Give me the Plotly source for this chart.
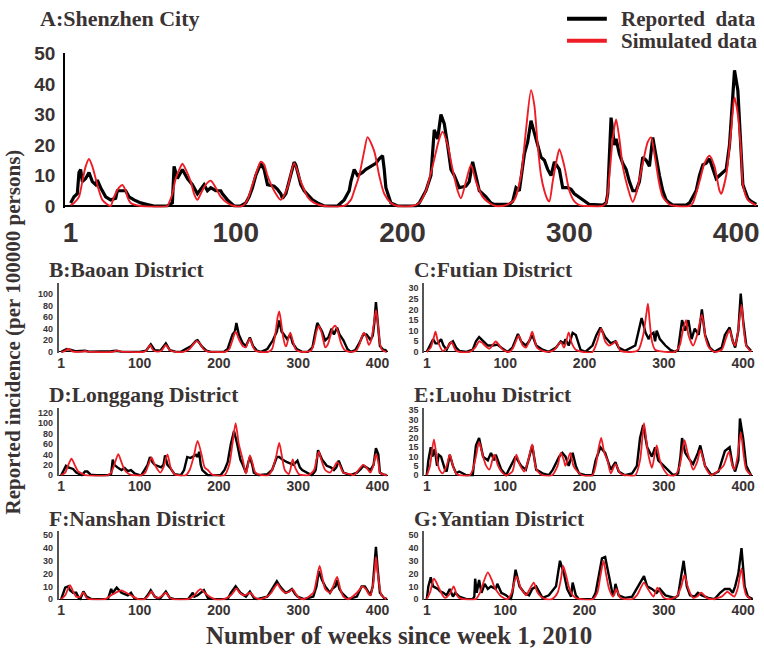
import plotly.graph_objects as go

W, H = 764, 660

# ---------------- data: (week, incidence per 100000) ----------------
week_ticks = [1, 100, 200, 300, 400]

A_reported = [(1,1),(3,3),(5,4),(6,11),(7,12),(8,8),(10,9),(12,11),(14,8),(16,7),(17,8.5),(19,6),(22,3),(25,2),(28,2.5),(29,5),(34,5),(36,3),(39,2),(43,1),(47,0.5),(51,0),(59,0),(62,1),(63,13),(65,9),(68,12),(71,9),(74,7),(76,5),(77,4),(81,7),(83,5),(85,6),(88,5),(91,5),(92,4),(95,2),(97,1),(99,0),(103,0),(106,1),(108,3),(110,6),(112,10),(115,14),(117,12),(119,7),(123,6.5),(125,5.5),(127,4),(128,2.5),(130,4),(132,8),(135,14.4),(136,13.5),(139,7),(141,5),(144,3),(146,2),(149,1),(153,0),(161,0),(163,1),(165,2),(167,4),(168,5),(169,8),(171,12),(173,10),(176,11),(178,12),(181,13),(184,14),(186,15.5),(188,16.5),(189,12),(190,6),(193,1),(197,0),(208,0),(210,1),(214,5),(217,10),(219,25),(221,22),(223,30),(225,27),(227,20),(229,12),(231,10),(234,6),(238,6.5),(240,8),(242,14.5),(243,12),(246,5),(248,4),(250,3),(253,1),(255,0.5),(264,0.5),(266,1.5),(268,6),(270,5),(273,17),(275,21),(277,28),(279,24),(281,20),(283,16),(285,15),(287,12),(289,10),(291,14.5),(294,12),(296,6),(299,6),(301,5.5),(303,4),(307,2.5),(310,1.5),(312,0.5),(320,0.3),(322,1),(323,4),(325,29),(327,20),(328,22),(330,17),(332,14),(334,12),(336,8),(338,5),(340,5),(342,8),(344,16),(346,15),(348,13),(350,22.5),(352,16),(354,10),(356,5),(358,2),(360,1),(362,0.3),(370,0.3),(372,1),(376,5),(378,10),(380,13.5),(382,14),(384,15.5),(386,12),(388,9),(390,10),(392,11),(394,12),(396,20),(398,38),(399,44.5),(401,38),(402,28),(403,20),(404,7),(406,4),(407,2.5),(409,1.5),(412,0.5)]
A_simulated = [(1,0.3),(3,1),(6,3),(8,8),(10,13),(12,15.4),(14,13),(16,9),(18,5),(20,2),(23,0.5),(25,0),(27,3),(30,6),(32,6.9),(34,5),(35,3),(37,1),(43,0),(59,0),(60,1),(62,4),(64,9),(67,13),(68,13.9),(70,12),(73,8),(75,4),(77,2),(79,4),(82,7),(85,8.3),(88,6),(91,3),(95,1),(99,0),(104,0),(107,2),(110,7),(113,12),(115,14.5),(117,13.6),(119,10),(123,5),(127,2),(131,6),(135,14),(139,8),(143,3),(147,1),(153,0),(165,0),(169,2),(171,5),(174,10),(177,18),(179,22.6),(183,18),(186,10),(189,4),(193,1),(197,0),(206,0),(210,1),(214,5),(218,13),(222,22),(224,24.4),(227,20),(230,12),(233,5),(235,2.5),(238,8),(241,13.5),(244,8),(248,3),(252,1),(256,0),(262,0.3),(267,2),(271,10),(274,25),(277,38),(279,33),(281,20),(283,10),(285,5),(287,2),(288,1.5),(290,8),(292,14),(294,18.6),(297,13),(300,5),(303,1.5),(306,0.3),(310,0),(320,0),(322,1),(324,10),(326,22),(328,28.4),(330,22),(332,13),(335,6),(338,1.3),(340,4),(344,14),(347,21),(349,22.5),(351,17),(354,7),(356,3),(360,0.5),(364,0),(372,0),(374,1),(378,8),(381,14),(384,16.5),(387,13),(390,5),(391,4),(394,10),(397,25),(399,35.6),(401,30),(403,17),(404,7),(407,2),(412,0.2)]

B_reported = [(1,0),(6,3),(8,5),(12,4),(16,3),(20,1),(31,2),(36,0.5),(64,1),(71,2),(76,0.5),(100,0),(108,2),(114,13),(119,3),(126,2),(133,14.5),(138,3),(145,0.5),(152,0),(158,5),(165,10),(171,19),(173,20),(178,10),(184,2),(190,0),(206,0),(211,5),(215,20),(217,30),(220,35),(222,50),(225,30),(230,15),(234,10),(239,25),(243,10),(248,2),(253,0),(261,5),(268,20),(273,35),(276,54),(279,35),(282,30),(286,22),(290,30),(293,15),(298,5),(305,0),(312,0),(318,8),(321,30),(324,50),(330,35),(334,20),(338,25),(342,40),(345,30),(349,42),(352,30),(357,20),(362,5),(366,0),(372,3),(377,15),(382,30),(386,30),(389,25),(391,20),(394,28),(396,50),(398,86),(400,60),(403,10),(407,4),(410,3),(412,0)]
B_simulated = [(1,0),(5,1),(10,5),(15,1),(20,0),(28,0.5),(31,1.5),(34,0.5),(40,0),(65,0),(71,2),(77,0.5),(85,0),(105,0),(109,3),(113,12),(117,3),(122,0.5),(128,3),(133,12),(138,3),(145,0),(155,0),(163,5),(168,14),(172,19),(176,14),(181,4),(186,0.5),(195,0),(208,0),(213,5),(217,20),(221,35),(225,22),(230,10),(234,8),(236,15),(239,23),(242,12),(246,2),(252,0),(262,0),(267,5),(271,30),(274,60),(276,70),(278,55),(281,25),(284,10),(285,10),(287,20),(290,33),(293,20),(297,4),(302,0.5),(310,0),(316,2),(320,15),(323,35),(326,45),(329,35),(332,18),(334,8),(337,12),(341,30),(344,42),(347,45),(350,35),(354,15),(358,4),(363,0.5),(368,0),(373,2),(377,12),(380,25),(383,33),(386,25),(389,12),(392,20),(395,45),(398,72),(400,55),(403,15),(406,3),(411,0)]

C_reported = [(1,0),(5,3),(9,6),(12,4),(15,4),(19,6),(22,3),(26,1),(30,4),(34,5),(38,2),(42,0.5),(51,0),(59,1),(63,5),(67,7),(72,5),(78,3),(84,3),(90,3.5),(95,2),(103,0),(109,2),(116,8.5),(120,5),(126,3),(130,5),(134,8),(139,3),(147,1),(155,0),(164,2),(170,5),(174,4),(176,6),(180,3),(185,9),(189,8),(195,1),(201,0),(210,3),(215,8),(220,11.5),(226,7),(233,4),(239,5),(243,2),(251,0.5),(264,3),(268,10),(272,16),(277,9),(281,6),(283,8),(287,9),(289,5),(291,10),(295,6),(302,3),(308,1),(314,0),(318,1),(323,15),(327,10),(331,15),(335,6),(339,11),(344,8),(348,20),(352,8),(358,2),(364,0),(373,2),(377,8),(383,11.5),(387,5),(390,2),(394,10),(397,27.5),(400,15),(404,3),(410,0.5)]
C_simulated = [(1,0),(6,2),(10,7),(12,9.5),(15,5),(21,0.5),(27,2),(32,4.7),(37,1),(42,0),(55,0),(62,2),(67,5),(70,4.5),(80,1.5),(88,4.9),(97,1),(105,0),(110,2),(117,7.7),(122,3),(126,2),(130,5),(134,9.5),(140,2),(147,0.5),(155,0),(162,1),(170,4.6),(174,2),(177,5),(180,9.2),(184,4),(189,1),(197,0),(210,0),(216,5),(221,11),(226,5),(231,3),(236,4),(240,5),(245,0.5),(260,0),(268,1),(274,8),(278,18),(280,22.7),(282,15),(285,5),(289,1),(302,0),(314,0),(320,3),(324,10),(328,15),(331,8),(337,3),(342,8),(348,17.6),(353,6),(357,2),(364,0),(373,1),(378,6),(383,10.4),(387,5),(390,3),(393,8),(398,22.2),(401,10),(404,3),(410,0)]

D_reported = [(1,0),(4,8),(7,18),(10,15),(16,12),(20,5),(23,3),(27,0),(31,7),(34,7),(38,1),(45,0),(60,0),(64,3),(66,30),(68,20),(72,15),(77,10),(81,14),(85,8),(89,10),(94,3),(100,0),(102,0),(106,10),(110,20),(113,35),(116,25),(119,20),(127,15),(130,20),(132,38),(135,20),(138,15),(144,2),(152,0),(156,10),(160,35),(164,33),(167,35),(171,39),(173,35),(175,45),(177,20),(179,10),(186,0),(202,0),(207,10),(211,25),(215,60),(219,85),(223,60),(227,30),(230,20),(234,5),(237,25),(239,35),(242,20),(244,5),(250,0),(261,2),(267,10),(271,25),(273,35),(276,35),(280,30),(286,25),(290,22),(294,20),(299,28),(302,15),(305,10),(311,5),(317,0),(320,5),(322,10),(325,48),(328,35),(330,30),(336,18),(341,15),(345,10),(348,15),(351,28),(354,15),(357,5),(366,0),(374,5),(379,12),(382,18),(385,16),(391,10),(395,20),(398,52),(401,40),(403,5),(408,1),(412,0)]
D_simulated = [(1,0),(6,5),(10,20),(14,31.7),(18,20),(22,8),(25,5),(31,0),(60,0),(64,5),(68,20),(73,40.4),(77,25),(81,10),(87,2),(92,0),(102,0),(107,5),(111,20),(115,34),(119,20),(126,5),(130,15),(135,40),(139,15),(144,2),(148,0),(158,0),(163,10),(168,35),(173,66),(178,40),(182,15),(186,10),(190,3),(194,0),(207,0),(213,20),(217,60),(221,100),(225,60),(230,30),(234,3),(236,15),(239,38),(242,25),(246,5),(254,0),(262,0),(267,10),(272,35),(276,62),(279,40),(283,10),(288,2),(290,10),(293,30.5),(296,15),(301,2),(307,0),(313,0),(320,10),(323,30),(326,45),(329,30),(334,10),(340,5),(345,15),(349,25),(352,20),(357,5),(366,2),(370,0),(376,10),(382,20),(386,15),(391,5),(395,20),(398,40.4),(401,25),(403,5),(408,1),(412,0)]

E_reported = [(1,0),(3,8),(6,15),(8,10),(11,14),(14,5),(16,11),(19,10),(24,3),(26,2),(30,11),(34,5),(38,1),(42,2),(51,0),(59,0),(63,16),(67,20),(72,10),(78,8),(82,12),(86,8),(88,11),(95,3),(101,0),(107,5),(113,10),(120,5),(126,3),(134,16),(139,3),(147,1),(155,0),(160,3),(168,10),(172,12),(176,10),(180,5),(185,12),(189,5),(193,1),(201,0),(210,0),(214,8),(220,15),(226,12),(233,3),(239,7),(243,2),(251,0),(260,1),(266,5),(270,20),(274,27),(279,15),(285,10),(289,15),(293,8),(300,5),(306,2),(312,0),(318,1),(321,10),(323,20),(327,12),(333,8),(337,6),(343,12),(346,16),(352,5),(360,0),(369,2),(377,13),(383,15),(387,5),(390,2),(394,8),(396,30.5),(400,20),(404,5),(410,0)]
E_simulated = [(1,0),(5,5),(10,19.2),(14,8),(17,3),(21,1),(26,5),(30,11),(34,5),(38,1),(42,0),(55,0),(59,3),(63,10),(67,17.9),(72,10),(76,5),(80,3),(86,11),(91,5),(95,2),(101,0),(109,2),(114,11),(119,5),(124,2),(129,8),(134,16.5),(138,5),(141,2),(147,0),(159,0),(166,5),(170,12),(174,8),(176,5),(182,12),(186,5),(191,2),(197,0),(210,0),(214,5),(218,15),(221,20),(225,12),(229,8),(233,1),(239,6),(245,1),(251,0),(264,0),(270,8),(275,28),(279,15),(281,10),(285,4),(291,16),(295,8),(300,3),(306,0),(314,0),(320,5),(326,18.8),(330,12),(333,8),(337,3),(342,7),(346,13.6),(350,8),(354,3),(360,0),(375,5),(382,12.5),(386,6),(389,3),(393,10),(397,23),(401,10),(404,3),(410,0)]

F_reported = [(1,0),(3,4),(6,9),(10,10),(12,7),(16,5),(20,5),(23,1),(25,0),(29,6),(33,2),(39,0),(60,0),(64,8),(66,5),(71,9),(77,5),(85,3),(89,5),(94,0),(106,0),(110,3),(114,7),(119,2),(125,0),(133,6),(138,1),(144,0),(161,0),(167,5),(169,2),(173,3),(177,5),(181,7),(186,1),(194,0),(211,0),(215,5),(221,10),(227,5),(234,2),(239,6),(244,1),(248,0),(261,2),(267,8),(273,14),(277,10),(280,8),(284,5),(288,6),(292,8),(296,4),(299,2),(307,0),(319,2),(323,10),(326,22),(330,15),(334,10),(340,5),(343,8),(347,10),(349,15),(352,8),(355,5),(363,0),(374,2),(380,10),(384,10),(386,8),(391,3),(394,10),(396,25),(398,41),(400,25),(403,5),(408,1),(412,0)]
F_simulated = [(1,0),(6,3),(12,11),(16,6),(20,2),(25,2),(29,5.3),(33,1),(37,0),(56,0),(64,3),(71,5.5),(77,6.9),(83,5),(89,3),(98,0),(106,0),(110,2),(115,6),(119,2),(123,1),(129,3),(133,5),(138,1),(142,0),(161,0),(169,3),(173,6),(177,7.9),(182,5),(188,2),(194,0),(206,0),(215,3),(219,6),(222,8.5),(226,5),(232,3),(236,4),(240,5),(244,2),(250,0),(261,2),(266,5),(270,9),(274,12),(278,8),(284,5),(289,6),(293,7.9),(297,4),(301,1),(307,0),(319,5),(323,15),(327,26),(331,15),(334,8),(340,5),(344,10),(349,17.5),(353,8),(357,2),(363,0),(374,5),(378,8),(381,10),(385,8),(389,4),(391,3),(394,10),(396,20),(398,33),(400,22),(403,8),(405,3),(411,0)]

G_reported = [(1,0),(3,10),(6,17),(9,10),(12,9),(15,8),(18,6),(22,5),(26,3),(30,8),(34,2),(37,5),(42,2),(51,0),(59,0),(61,2),(62,16),(64,5),(67,15),(70,5),(74,12),(78,8),(82,10),(86,9),(88,8),(90,12),(95,5),(101,3),(107,0),(109,5),(113,23),(118,10),(124,5),(130,3),(134,8),(139,10),(143,5),(147,1),(155,3),(164,10),(169,30),(174,20),(178,8),(183,2),(185,13),(189,3),(193,0),(210,0),(214,5),(222,32),(226,33),(230,20),(235,5),(237,3),(239,12),(243,3),(251,1),(260,2),(266,8),(270,12),(275,18),(279,10),(285,8),(291,5),(295,8),(302,3),(308,2),(314,1),(318,3),(320,10),(325,30),(329,10),(333,3),(339,2),(343,5),(348,3),(356,1),(364,0),(371,5),(377,8),(383,8),(387,5),(390,10),(394,20),(398,40),(402,10),(406,2),(412,0)]
G_simulated = [(1,0),(5,5),(10,16),(14,12),(17,8),(21,3),(24,1),(30,4),(35,10),(39,3),(42,1),(47,0),(63,0),(68,5),(73,14),(78,21),(83,15),(86,10),(92,4),(95,2),(103,0),(108,5),(114,18),(120,8),(124,5),(126,3),(131,8),(136,13),(140,6),(145,2),(151,0),(159,0),(166,5),(170,15),(173,26),(177,18),(180,10),(185,3),(189,1),(195,0),(210,0),(216,5),(220,18),(224,30),(227,20),(231,8),(236,2),(240,8),(245,1),(251,0),(260,0),(266,3),(271,9),(275,13),(280,8),(283,5),(287,2),(292,9),(296,5),(300,1),(306,0),(316,2),(322,10),(326,19),(330,10),(333,5),(337,1),(342,2),(347,5),(351,3),(354,1),(360,0),(373,2),(380,5.8),(384,4),(389,2),(393,8),(398,24),(401,10),(404,3),(410,0)]

# ---------------- layout specs (pixel geometry) ----------------
TXT = '#3a3333'
SERIF = 'Liberation Serif, Times New Roman, serif'
SANS = 'Liberation Sans, Arial, sans-serif'

LEFT_X = (56.8, 387.7)
RIGHT_X = (424.3, 755.2)
panels = [
    dict(t='A:Shenzhen City', rep=A_reported, sim=A_simulated, xpix=(63.3, 759.5), p0=202.5, k=3.133,
         yr=(-0.5, 50.3), yt=[0, 10, 20, 30, 40, 50], big=True, tx=36, ty=10),
    dict(t='B:Baoan District', rep=B_reported, sim=B_simulated, xpix=LEFT_X, p0=352.5, k=0.596,
         yr=(-2.0, 118.3), yt=[0, 20, 40, 60, 80, 100], big=False, tx=45, ty=268.3),
    dict(t='C:Futian District', rep=C_reported, sim=C_simulated, xpix=RIGHT_X, p0=352.5, k=2.18,
         yr=(-0.55, 32.3), yt=[0, 5, 10, 15, 20, 25, 30], big=False, tx=412, ty=268.3),
    dict(t='D:Longgang District', rep=D_reported, sim=D_simulated, xpix=LEFT_X, p0=479.3, k=0.536,
         yr=(-2.2, 129.3), yt=[0, 20, 40, 60, 80, 100, 120], big=False, tx=45, ty=396.5),
    dict(t='E:Luohu District', rep=E_reported, sim=E_simulated, xpix=RIGHT_X, p0=479.3, k=1.914,
         yr=(-0.63, 36.2), yt=[0, 5, 10, 15, 20, 25, 30, 35], big=False, tx=412, ty=396.5),
    dict(t='F:Nanshan District', rep=F_reported, sim=F_simulated, xpix=LEFT_X, p0=606.7, k=1.314,
         yr=(-0.9, 53.3), yt=[0, 10, 20, 30, 40, 50], big=False, tx=45, ty=524),
    dict(t='G:Yantian District', rep=G_reported, sim=G_simulated, xpix=RIGHT_X, p0=606.7, k=1.314,
         yr=(-0.9, 53.3), yt=[0, 10, 20, 30, 40, 50], big=False, tx=412, ty=524),
]

fig = go.Figure()
layout = dict(width=W, height=H, margin=dict(l=0, r=0, t=0, b=0),
              paper_bgcolor='white', plot_bgcolor='white', showlegend=False)
annotations = []
shapes = []

for i, p in enumerate(panels, start=1):
    xa = 'x' if i == 1 else f'x{i}'
    ya = 'y' if i == 1 else f'y{i}'
    big = p['big']
    xw, xv = zip(*p['rep'])
    sw, sv = zip(*p['sim'])
    fig.add_trace(go.Scatter(x=xw, y=xv, xaxis=xa, yaxis=ya, mode='lines', name='Reported data',
                             line=dict(color='#000000', width=3.2 if big else 2.4)))
    fig.add_trace(go.Scatter(x=sw, y=sv, xaxis=xa, yaxis=ya, mode='lines', name='Simulated data',
                             line=dict(color='#ee1c24', width=1.9 if big else 1.8, shape='spline', smoothing=0.7)))
    p0, k = p['p0'], p['k']
    ylo, yhi = p['yr']
    pb = p0 - ylo * k
    pt = p0 - yhi * k
    xd = [p['xpix'][0] / W, p['xpix'][1] / W]
    yd = [(H - pb) / H, (H - pt) / H]
    xkey = 'xaxis' if i == 1 else f'xaxis{i}'
    ykey = 'yaxis' if i == 1 else f'yaxis{i}'
    layout[xkey] = dict(domain=xd, range=[-2.4, 412.8], anchor=ya, tickvals=week_ticks,
                        showgrid=False, zeroline=False, showline=False, ticks='',
                        ticklabelstandoff=5 if big else 0,
                        tickfont=dict(family=SANS, size=28 if big else 14, color=TXT, weight='bold'))
    layout[ykey] = dict(domain=yd, range=[ylo, yhi], anchor=xa, tickvals=p['yt'],
                        showgrid=False, zeroline=True, zerolinecolor='#000000',
                        zerolinewidth=1.5 if big else 1,
                        showline=True, linecolor='#000000' if big else '#555555', linewidth=1.5,
                        ticks='', ticklabelstandoff=4 if big else 2,
                        tickfont=dict(family=SANS, size=19 if big else 9, color=TXT, weight='bold'))
    annotations.append(dict(text=p['t'], xref='paper', yref='paper', x=p['tx'] / W, y=(H - p['ty']) / H,
                            xanchor='left', yanchor='middle', showarrow=False,
                            font=dict(family=SERIF, size=22 if big else 21.5, color=TXT, weight='bold')))

# axis titles
annotations.append(dict(text='Number of weeks since week 1, 2010', xref='paper', yref='paper',
                        x=399 / W, y=(H - 644) / H, xanchor='center', yanchor='middle', showarrow=False,
                        font=dict(family=SERIF, size=25, color=TXT, weight='bold')))
annotations.append(dict(text='Reported incidence (per 100000 persons)', xref='paper', yref='paper',
                        x=11.5 / W, y=(H - 332) / H, xanchor='center', yanchor='middle', showarrow=False,
                        textangle=-90, font=dict(family=SERIF, size=21, color=TXT, weight='bold')))

# legend
for txt, col, yy in [('Reported\u00a0 data', '#000000', 10), ('Simulated data', '#ee1c24', 32.7)]:
    shapes.append(dict(type='line', xref='paper', yref='paper', x0=568 / W, x1=608 / W,
                       y0=(H - yy) / H, y1=(H - yy) / H, line=dict(color=col, width=4)))
    annotations.append(dict(text=txt, xref='paper', yref='paper', x=620 / W, y=(H - yy) / H,
                            xanchor='left', yanchor='middle', showarrow=False,
                            font=dict(family=SERIF, size=21, color=TXT, weight='bold')))

layout['annotations'] = annotations
layout['shapes'] = shapes
fig.update_layout(**layout)
# remove the browser's default 8px page margin so the figure sits at the window origin
fig.write_html('out.html', config={'displayModeBar': False},
               post_script="document.body.style.margin='0';")
